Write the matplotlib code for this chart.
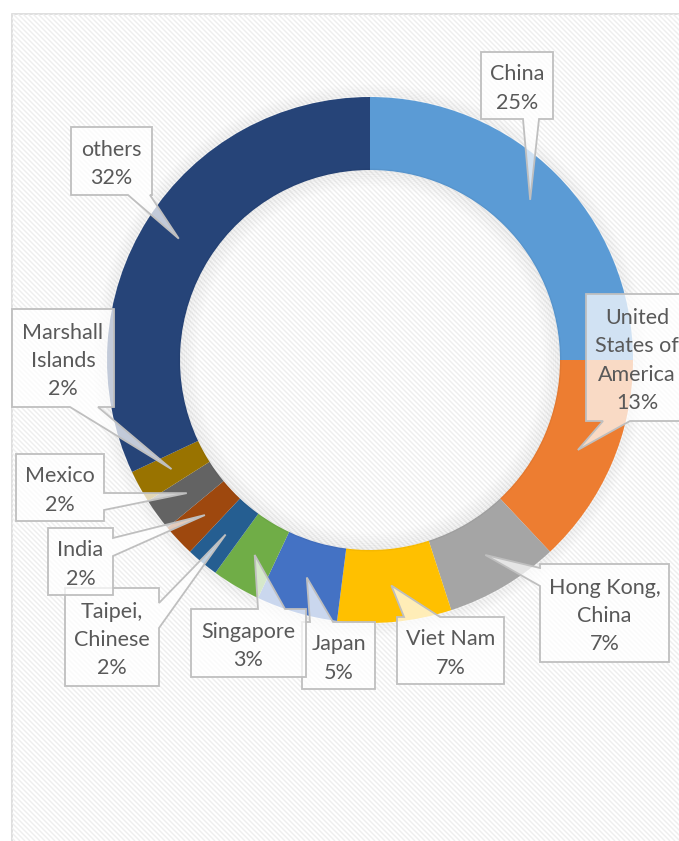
import numpy as np
import matplotlib
matplotlib.use('Agg')
import matplotlib.pyplot as plt
from matplotlib.patches import Polygon, Rectangle, Circle
from matplotlib.collections import LineCollection

plt.rcParams['font.family'] = ['Lato', 'DejaVu Sans']

# share of each partner (%), clockwise from 12 o'clock
countries = ['China', 'United\nStates of\nAmerica', 'Hong Kong,\nChina', 'Viet Nam', 'Japan',
             'Singapore', 'Taipei,\nChinese', 'India', 'Mexico', 'Marshall\nIslands', 'others']
shares = [25, 13, 7, 7, 5, 3, 2, 2, 2, 2, 32]
colors = ['#5B9BD5', '#ED7D31', '#A5A5A5', '#FFC000', '#4472C4', '#70AD47',
          '#255E91', '#9E480E', '#636363', '#997300', '#264478']

W, H = 679, 841
cx, cy = 370, 360          # donut centre (pixels from top-left)
r_out, r_in = 263, 190

# callout boxes in pixels: (x0, y0, x1, y1), side the pointer leaves from, base of pointer
boxes = [
    ((481, 52, 553, 119), 'bottom', (523, 539)),
    ((586, 294, 700, 421), 'bottom', (603, 630)),
    ((540, 564, 669, 662), 'left', (568, 586)),
    ((397, 617, 504, 684), 'top', (404, 440)),
    ((302, 622, 375, 689), 'top', (310, 333)),
    ((191, 609, 306, 677), 'top', (258, 285)),
    ((65, 588, 159, 686), 'right', (603, 628)),
    ((48, 528, 113, 595), 'right', (538, 556)),
    ((16, 454, 104, 521), 'right', (493, 510)),
    ((12, 309, 114, 407), 'bottom', (70, 98)),
    ((71, 127, 152, 195), 'bottom', (128, 150)),
]

fig = plt.figure(figsize=(W / 100, H / 100), dpi=100)
ax = fig.add_axes([0, 0, 1, 1])

# chart area with diagonal stripes (runs off the right and bottom edges)
area = Rectangle((12, -10), W + 10, H - 14 + 10, facecolor='white', edgecolor='#d9d9d9',
                 lw=1.2, zorder=0)
ax.add_patch(area)
xs = np.arange(-H, W + H, 5.0)
segs = [[(x, H), (x + H, 0)] for x in xs]
stripes = LineCollection(segs, colors='#eeeeee', linewidths=1.0, zorder=0.5)
ax.add_collection(stripes)
stripes.set_clip_path(area)

# soft shadow just outside the ring
for i in range(8):
    ax.add_patch(Circle((cx, H - cy), r_out + 1 + i * 1.6, facecolor='none', edgecolor='black',
                        lw=1.8, alpha=0.03 * (8 - i) / 8, zorder=0.8))

wedges, _ = ax.pie(shares, colors=colors, radius=r_out, center=(cx, H - cy), startangle=90,
                   counterclock=False, wedgeprops=dict(width=r_out - r_in, linewidth=0))

# inner shadow of the hole
for i in range(10):
    ring = Circle((cx, H - cy), r_in - i * 1.8, facecolor='none', edgecolor='black',
                  lw=2.0, alpha=0.04 * (10 - i) / 10, zorder=3)
    ax.add_patch(ring)

for w, name, val, (box, side, (a, b)) in zip(wedges, countries, shares, boxes):
    mid = np.deg2rad((w.theta1 + w.theta2) / 2)
    rm = (r_out + r_in) / 2
    tip = (cx + rm * np.cos(mid), cy - rm * np.sin(mid))
    x0, y0, x1, y1 = box
    pts = [(x0, y0)]
    if side == 'top':
        pts += [(a, y0), tip, (b, y0)]
    pts += [(x1, y0)]
    if side == 'right':
        pts += [(x1, a), tip, (x1, b)]
    pts += [(x1, y1)]
    if side == 'bottom':
        pts += [(b, y1), tip, (a, y1)]
    pts += [(x0, y1)]
    if side == 'left':
        pts += [(x0, b), tip, (x0, a)]
    pts = [(px, H - py) for px, py in pts]
    ax.add_patch(Polygon(pts, closed=True, facecolor=(1, 1, 1, 0.72), edgecolor='#bfbfbf',
                         lw=1.3, zorder=4))
    tx = (x0 + x1) / 2
    if x1 > W:
        tx = 637
    ax.text(tx, H - (y0 + y1) / 2 - 3, f'{name}\n{val}%', ha='center', va='center',
            fontsize=15.5, color='#595959', linespacing=1.52, zorder=5)

ax.set_xlim(0, W)
ax.set_ylim(0, H)
ax.set_aspect('auto')
ax.axis('off')

plt.savefig('out.png', dpi=100)
